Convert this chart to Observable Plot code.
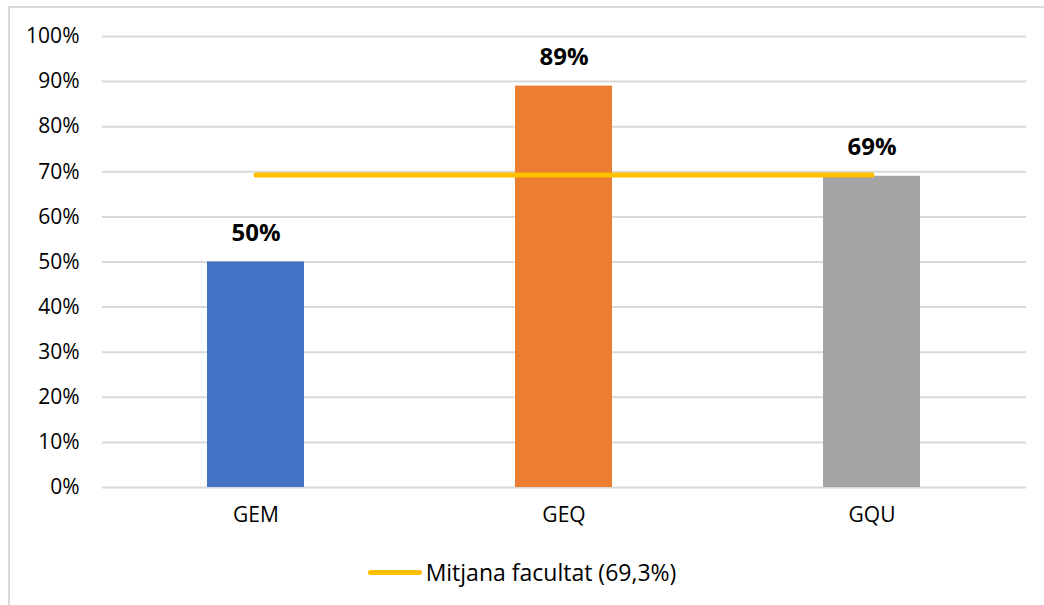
<!DOCTYPE html>
<html>
<head>
<meta charset="utf-8">
<script src="https://cdn.jsdelivr.net/npm/d3@7"></script>
<script src="https://cdn.jsdelivr.net/npm/@observablehq/plot@0.6"></script>
<style>
  html, body { margin: 0; padding: 0; background: #fff; }
  #wrap { position: relative; width: 1044px; height: 605px; overflow: hidden; font-family: "Open Sans", Lato, sans-serif; }
  #frame { position: absolute; left: 8px; top: 6px; width: 1100px; height: 700px; border-left: 2px solid #d9d9d9; border-top: 2px solid #d9d9d9; }
  #chart { position: absolute; left: 0; top: 0; }
  #legend { position: absolute; left: 0; top: 555px; width: 1044px; display: flex; justify-content: center; align-items: center; font-size: 23px; color: #000; height: 34px; }
  #legend .sw { width: 54px; height: 5px; border-radius: 3px; background: #FFC000; margin-right: 4px; }
</style>
</head>
<body>
<div id="wrap">
  <div id="frame"></div>
  <div id="chart"></div>
  <div id="legend"><span class="sw"></span><span>Mitjana facultat (69,3%)</span></div>
</div>
<script>
const categories = ["GEM", "GEQ", "GQU"];
const values = [0.50, 0.89, 0.69];
const colors = ["#4472C4", "#ED7D31", "#A5A5A5"];
const average = 0.693;
const yTicks = [0, 0.1, 0.2, 0.3, 0.4, 0.5, 0.6, 0.7, 0.8, 0.9, 1.0];

const data = categories.map((c, i) => ({cat: c, value: values[i], color: colors[i]}));
const avgLine = [{cat: categories[0], value: average}, {cat: categories[categories.length - 1], value: average}];

const chart = Plot.plot({
  width: 1044,
  height: 548,
  marginLeft: 102,
  marginRight: 18,
  marginTop: 36,
  marginBottom: 61,
  style: {fontFamily: "'Open Sans', Lato, sans-serif", fontSize: "21px", color: "#000", background: "transparent"},
  x: {domain: categories, paddingInner: 0.685, paddingOuter: 0.3425, label: null, tickSize: 0, tickPadding: 20},
  y: {domain: [0, 1], ticks: yTicks, tickFormat: d3.format(".0%"), label: null, tickSize: 0, tickPadding: 23},
  marks: [
    Plot.gridY(yTicks, {stroke: "#d9d9d9", strokeOpacity: 1, strokeWidth: 2}),
    Plot.barY(data, {x: "cat", y: "value", fill: "color"}),
    Plot.text(data, {x: "cat", y: "value", text: d => d3.format(".0%")(d.value), dy: -29, fontWeight: "bold", fontSize: 24, fill: "#000"}),
    Plot.line(avgLine, {x: "cat", y: "value", stroke: "#FFC000", strokeWidth: 5, strokeLinecap: "round"}),
    Plot.axisY({ticks: yTicks, tickFormat: d3.format(".0%"), tickSize: 0, tickPadding: 23, label: null, fontSize: 21}),
    Plot.axisX({tickSize: 0, tickPadding: 20, label: null, fontSize: 21})
  ]
});
document.getElementById("chart").appendChild(chart);
</script>
</body>
</html>
